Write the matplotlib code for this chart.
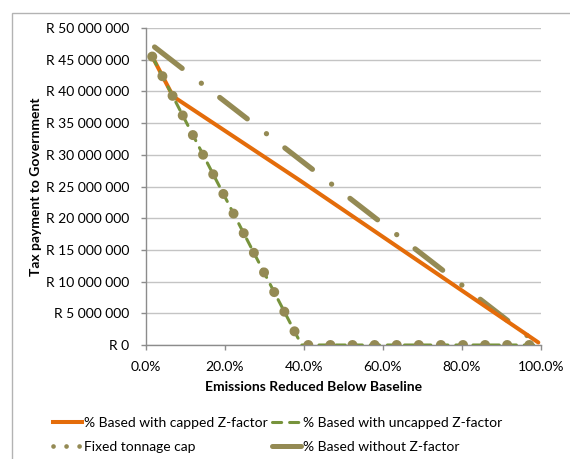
import matplotlib
matplotlib.use("Agg")
import matplotlib.pyplot as plt
from matplotlib.lines import Line2D
from matplotlib.patches import Rectangle
from matplotlib.ticker import FuncFormatter, MultipleLocator

plt.rcParams['font.family'] = ['Lato', 'DejaVu Sans']

# Series data (x = share of emissions reduced, y = tax in Rand)
capped_x = [0.017, 0.070, 0.392, 0.994]
capped_y = [45.5e6, 39.2e6, 25.9e6, 0.4e6]

uncapped_x = [0.017, 0.395, 0.99]
uncapped_y = [45.5e6, 0.0, 0.0]

fixed_x = [0.017, 0.395, 0.99]
fixed_y = [45.5e6, 0.0, 0.0]

noz_x = [0.023, 0.99]
noz_y = [47.0e6, 0.3e6]

labels = ["% Based with capped Z-factor", "% Based with uncapped Z-factor",
          "Fixed tonnage cap", "% Based without Z-factor"]

ORANGE = "#E46C0A"
GREEN = "#77933C"
OLIVE = "#948A54"
GRID = "#C4C4C4"
AXIS = "#8C8C8C"

W, H = 570, 459
fig = plt.figure(figsize=(W / 100, H / 100), dpi=100)

def px(x0, y0):
    return x0 / W, 1 - y0 / H

# outer chart border
fig.add_artist(Rectangle(px(12, 500), 600 / W, 487 / H, transform=fig.transFigure,
                         fill=False, edgecolor="#B3B3B3", lw=1.0))

left, right, top, bottom = 145.5, 540.7, 28, 345
ax = fig.add_axes([left / W, 1 - bottom / H, (right - left) / W, (bottom - top) / H])
ax.set_xlim(0, 1)
ax.set_ylim(0, 50e6)

ax.yaxis.set_major_locator(MultipleLocator(5e6))
ax.xaxis.set_major_locator(MultipleLocator(0.2))
ax.yaxis.set_major_formatter(FuncFormatter(lambda v, p: "R " + f"{v:,.0f}".replace(",", " ")))
ax.xaxis.set_major_formatter(FuncFormatter(lambda v, p: f"{v * 100:.1f}%"))

ax.grid(axis="y", color=GRID, lw=1.0)
ax.set_axisbelow(True)
for s in ("top", "right"):
    ax.spines[s].set_visible(False)
for s in ("left", "bottom"):
    ax.spines[s].set_color(AXIS)
    ax.spines[s].set_linewidth(1.0)
ax.tick_params(axis="both", colors=AXIS, length=3.5, width=1.0, labelcolor="black",
               labelsize=10)
ax.tick_params(axis="y", pad=8)
ax.tick_params(axis="x", pad=8)

# % Based without Z-factor: long dash-dot
l4, = ax.plot(noz_x, noz_y, color=OLIVE, lw=3.8, solid_capstyle="round",
              dash_capstyle="round", zorder=2)
l4.set_dashes((6.6, 4.6, 0.01, 4.4))

# % Based with capped Z-factor
ax.plot(capped_x, capped_y, color=ORANGE, lw=2.9, solid_capstyle="round", zorder=3)

# % Based with uncapped Z-factor: dashed
l2, = ax.plot(uncapped_x, uncapped_y, color=GREEN, lw=2.2, dash_capstyle="round", zorder=4)
l2.set_dashes((3.0, 2.6))

# Fixed tonnage cap: round dots
l3, = ax.plot(fixed_x, fixed_y, color=OLIVE, lw=7.2, dash_capstyle="round", zorder=5)
l3.set_dashes((0.01, 2.2))

fig.text(314 / W, 1 - 387 / H, "Emissions Reduced Below Baseline", ha="center", va="center",
         fontsize=10, fontweight="bold")
fig.text(36 / W, 1 - 186.5 / H, "Tax payment to Government", ha="center", va="center",
         rotation=90, fontsize=10, fontweight="bold")

# legend proxies
h_orange = Line2D([], [], color=ORANGE, lw=2.9)
h_green = Line2D([], [], color=GREEN, lw=2.2, dashes=(3.0, 2.6), dash_capstyle="round")
h_dots = Line2D([], [], color=OLIVE, lw=3.4, dashes=(0.01, 2.75), dash_capstyle="round")
h_olive = Line2D([], [], color=OLIVE, lw=3.6, solid_capstyle="round")

common = dict(frameon=False, fontsize=10, handlelength=2.1, handletextpad=0.15,
              labelspacing=0.83, loc="upper left", borderpad=0, borderaxespad=0)
fig.legend([h_orange, h_dots], [labels[0], labels[2]], bbox_to_anchor=px(53, 417), **common)
fig.legend([h_green, h_olive], [labels[1], labels[3]], bbox_to_anchor=px(272, 417), **common)

fig.savefig("out.png", dpi=100)
